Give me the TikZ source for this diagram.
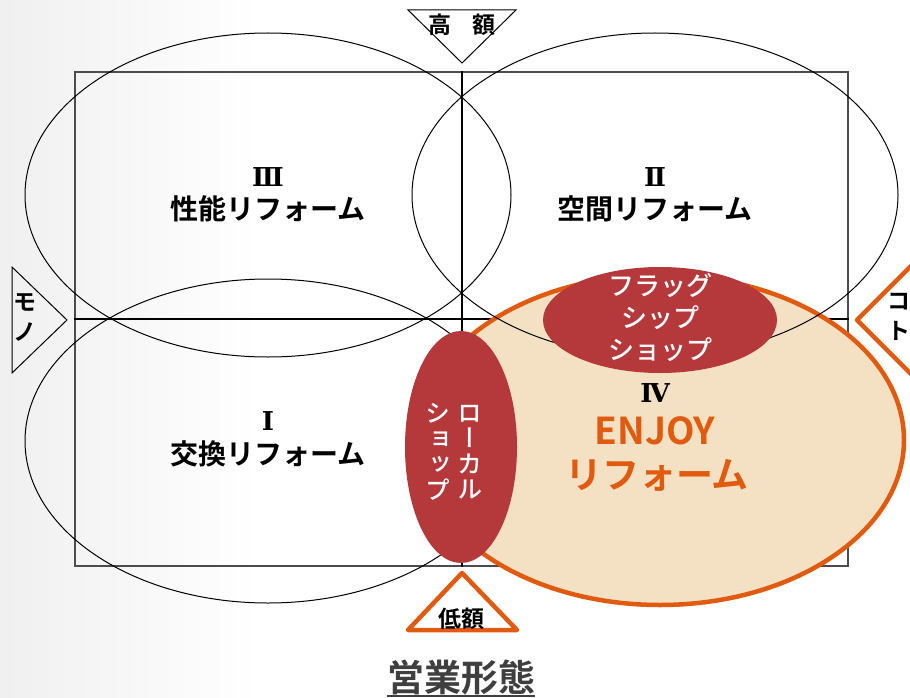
\documentclass[tikz,border=0pt]{standalone}
\usepackage{fontspec}
\usetikzlibrary{shapes.geometric}
\setmainfont{Noto Sans CJK JP}
\newfontfamily\jpb{Noto Sans CJK JP Bold}
\newfontfamily\jpm{Noto Sans CJK JP Medium}
\newfontfamily\jpv{Noto Sans CJK JP Medium}[RawFeature=+vert]
\newfontfamily\romf{DejaVu Serif Bold}
\definecolor{darkred}{HTML}{B5383B}
\definecolor{orng}{HTML}{E05A0F}
\definecolor{beige}{HTML}{F4E0C2}
\definecolor{titlegray}{HTML}{3F3F3F}
\begin{document}
\begin{tikzpicture}[x=1pt,y=-1pt,
  lbl/.style={font=\jpb\fontsize{28}{30}\selectfont, align=center, inner sep=0pt},
  num/.style={font=\romf\fontsize{26}{28}\selectfont, inner sep=0pt},
  oval/.style={ellipse, draw=black, line width=1pt, inner sep=0pt, minimum width=486pt, minimum height=324pt},
  redoval/.style={ellipse, fill=darkred, inner sep=0pt},
  wtxt/.style={font=\jpm\fontsize{26}{32}\selectfont, text=white, align=center, inner sep=0pt},
  vtxt/.style={font=\jpv\fontsize{25}{25.5}\selectfont, text=white, align=center, inner sep=0pt},
  axlbl/.style={font=\jpb\fontsize{23}{24}\selectfont, inner sep=0pt},
  sidelbl/.style={font=\jpb\fontsize{23}{30}\selectfont, align=center, inner sep=0pt},
  blacktri/.style={draw=black, line width=1pt},
  orangetri/.style={draw=orng, line width=4.5pt, line join=round}]
\useasboundingbox (0,0) rectangle (910,698);
\fill[white] (0,0) rectangle (910,698);
\shade[left color=black!6, right color=white] (0,0) rectangle (260,698);
% frame and axes
\node[draw=black!70, line width=1.2pt, minimum width=773pt, minimum height=494pt, inner sep=0pt] (frame) at (461.5,319) {};
\draw[line width=2pt] (frame.north) -- (frame.south);
\draw[line width=2pt] (frame.west) -- (frame.east);
% orange ellipse
\node[ellipse, fill=beige, draw=orng, line width=4.5pt, inner sep=0pt, minimum width=488pt, minimum height=330pt] (eo) at (660,440) {};
% four black ellipses
\node[oval] (e3) at (268,195) {};
\node[oval] (e2) at (655,195) {};
\node[oval] (e1) at (268,441) {};
% red ellipses
\node[redoval, minimum width=234pt, minimum height=106pt] (ef) at (660,320) {};
\node[redoval, minimum width=112pt, minimum height=232pt] (el) at (461,447) {};
% quadrant labels
\node[num] (n3) at (268,177) {Ⅲ};
\node[lbl] (t3) at (268,209) {性能リフォーム};
\node[num] (n2) at (655,177) {Ⅱ};
\node[lbl] (t2) at (655,209) {空間リフォーム};
\node[num] (n1) at (268,421) {Ⅰ};
\node[lbl] (t1) at (268,454) {交換リフォーム};
\node[num] (n4) at (655,393) {Ⅳ};
\node[font=\jpb\fontsize{37}{40}\selectfont, text=orng, inner sep=0pt] (t4a) at (655,431) {ENJOY};
\node[font=\jpb\fontsize{37}{40}\selectfont, text=orng, inner sep=0pt] (t4b) at (657,475) {リフォーム};
% flagship text
\node[wtxt] (tf) at (660,318) {フラッグ\\シップ\\ショップ};
% local shop vertical text
\node[vtxt] (tl1) at (470,452) {ロ\\ー\\カ\\ル};
\node[vtxt] (tl2) at (438,452) {シ\\ョ\\ッ\\プ};
% top triangle
\draw[blacktri] (408,10) -- (516,10) -- (462,63) -- cycle;
\node[axlbl] (high) at (462,25) {高\hspace{0.9em}額};
% left triangle
\draw[blacktri] (12,267) -- (67,320) -- (12,373) -- cycle;
\node[sidelbl] (mono) at (25,317) {モ\\ノ};
% right triangle (orange)
\draw[orangetri] (914,263) -- (857,320) -- (914,377);
\node[sidelbl] (koto) at (899,317) {コ\\ト};
% bottom triangle (orange)
\draw[orangetri] (462,573) -- (517,630) -- (408,630) -- cycle;
\node[axlbl] (low) at (461,619) {低額};
% title
\node[font=\jpb\fontsize{37}{40}\selectfont, text=titlegray, inner sep=0pt] (title) at (461,677) {営業形態};
\draw[titlegray, line width=2.5pt] (387,696) -- (535,696);
\end{tikzpicture}
\end{document}
